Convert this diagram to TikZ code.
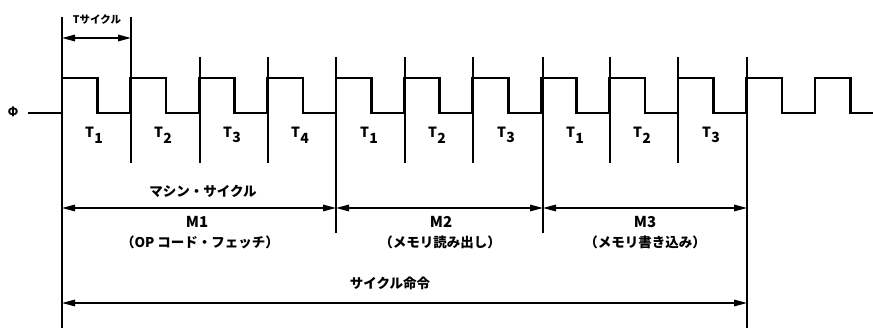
\documentclass[tikz,border=0pt]{standalone}
\usepackage{fontspec}
\setmainfont{Noto Sans CJK JP}
\usetikzlibrary{arrows.meta}
\tikzset{
  clk/.style={line width=2.6pt, line join=miter, line cap=butt},
  tick/.style={line width=1.4pt},
  dimarrow/.style={line width=1.5pt, {Triangle[length=13pt,width=6.5pt]}-{Triangle[length=13pt,width=6.5pt]}},
  tlab/.style={font=\fontsize{14}{16}\selectfont\bfseries, inner sep=0pt},
  jlab/.style={font=\fontsize{13.5}{16}\selectfont\bfseries, inner sep=0pt},
  mlab/.style={font=\fontsize{15}{17}\selectfont\bfseries, inner sep=0pt},
  slab/.style={font=\fontsize{10.5}{12}\selectfont\bfseries, inner sep=0pt},
  philab/.style={font=\fontsize{12.5}{14}\selectfont\bfseries, inner sep=0pt}
}
\newcommand{\Tsub}[1]{T\kern0.5pt\raisebox{-0.4em}{#1}}
\begin{document}
\begin{tikzpicture}[x=1pt,y=-1pt]
\useasboundingbox (0,0) rectangle (873,328);
% clock
\draw[clk] (28,113) \foreach \k in {0,...,11} { -- ({62+68.45*\k},113) -- ++(0,-35) -- ++(35.5,0) -- ++(0,35) } -- (873,113);
\node[philab] (phi) at (13,112) {Φ};
% coordinates of tick lines
\coordinate (a0) at (62,17);   \coordinate (b0) at (62,328);
\coordinate (a1) at (131,17);  \coordinate (b1) at (131,163);
\coordinate (a2) at (200,57);  \coordinate (b2) at (200,163);
\coordinate (a3) at (268,57);  \coordinate (b3) at (268,163);
\coordinate (a4) at (336,57);  \coordinate (b4) at (336,233);
\coordinate (a5) at (405,57);  \coordinate (b5) at (405,163);
\coordinate (a6) at (473,57);  \coordinate (b6) at (473,163);
\coordinate (a7) at (543,57);  \coordinate (b7) at (543,233);
\coordinate (a8) at (610,57);  \coordinate (b8) at (610,163);
\coordinate (a9) at (678,57);  \coordinate (b9) at (678,163);
\coordinate (a10) at (747,57); \coordinate (b10) at (747,328);
\foreach \i in {0,...,10} { \draw[tick] (a\i) -- (b\i); }
% T cycle
\coordinate (tc0) at (62,38); \coordinate (tc1) at (131,38);
\draw[dimarrow] (tc0) -- (tc1);
\node[slab] (tcyc) at (97,20) {Tサイクル};
% T labels
\node[tlab] (l1) at (94,135) {\Tsub{1}};
\node[tlab] (l2) at (163,135) {\Tsub{2}};
\node[tlab] (l3) at (232,135) {\Tsub{3}};
\node[tlab] (l4) at (300,135) {\Tsub{4}};
\node[tlab] (l5) at (369,135) {\Tsub{1}};
\node[tlab] (l6) at (437,135) {\Tsub{2}};
\node[tlab] (l7) at (506,135) {\Tsub{3}};
\node[tlab] (l8) at (575,135) {\Tsub{1}};
\node[tlab] (l9) at (642,135) {\Tsub{2}};
\node[tlab] (l10) at (711,135) {\Tsub{3}};
% machine cycles
\coordinate (m0) at (62,208); \coordinate (m1) at (336,208);
\coordinate (m2) at (543,208); \coordinate (m3) at (747,208);
\draw[dimarrow] (m0) -- (m1);
\draw[dimarrow] (m1) -- (m2);
\draw[dimarrow] (m2) -- (m3);
\node[jlab] (mc) at (203,191) {マシン・サイクル};
\node[mlab] (M1) at (197,222) {M1};
\node[jlab] (M1t) at (200,242) {（OP コード・フェッチ）};
\node[mlab] (M2) at (441,222) {M2};
\node[jlab] (M2t) at (440,242) {（メモリ読み出し）};
\node[mlab] (M3) at (645,222) {M3};
\node[jlab] (M3t) at (645,242) {（メモリ書き込み）};
% instruction cycle
\coordinate (i0) at (62,303); \coordinate (i1) at (747,303);
\draw[dimarrow] (i0) -- (i1);
\node[jlab] (ic) at (390,283) {サイクル命令};
\end{tikzpicture}
\end{document}
